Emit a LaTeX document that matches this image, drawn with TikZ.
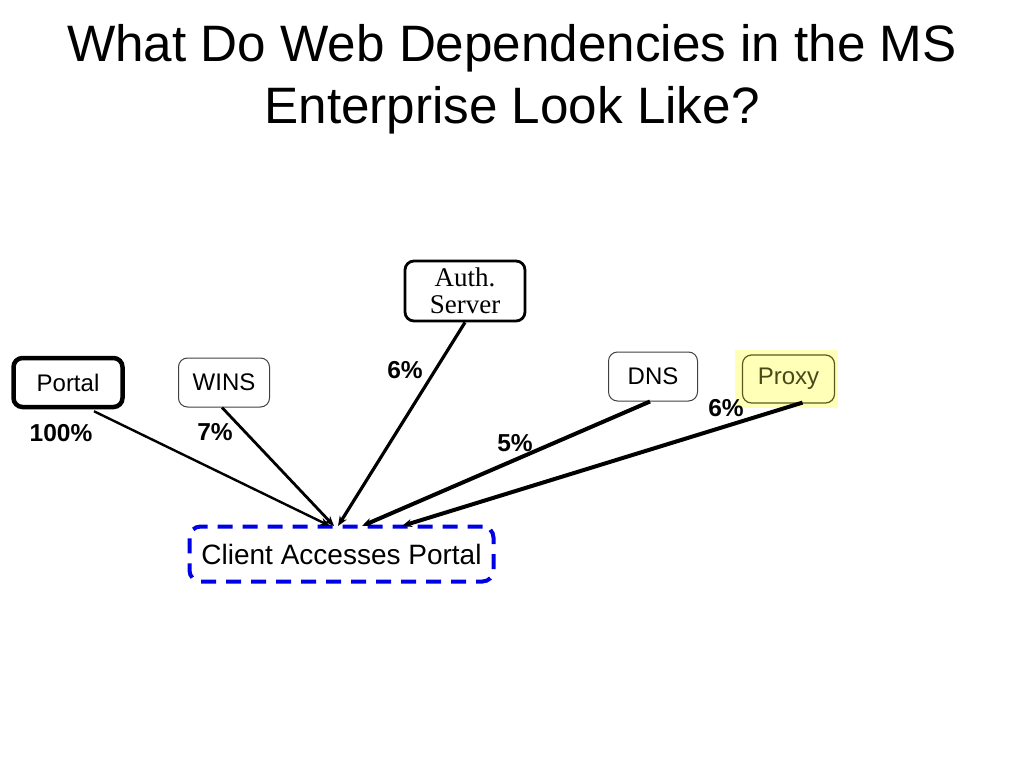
\documentclass[tikz,border=0pt]{standalone}
\usepackage{fontspec}
\setmainfont{Liberation Sans}
\newfontfamily\serifface{Liberation Serif}
\usetikzlibrary{arrows.meta}
\definecolor{hilite}{HTML}{FFFFB8}
\definecolor{olive}{HTML}{5A5A20}
\begin{document}
\begin{tikzpicture}[x=1pt,y=-1pt,
  box/.style={draw, rounded corners=9pt, minimum height=49pt, font=\fontsize{24}{27}\selectfont, inner sep=0pt},
  pct/.style={font=\bfseries\fontsize{24.5}{27}\selectfont, inner sep=0pt},
  dep/.style={-{Stealth[length=10pt,width=8pt]}, black},
]
\useasboundingbox (0,0) rectangle (1024,768);
\node[align=center, font=\fontsize{51.2}{62}\selectfont, inner sep=0pt] (title) at (512,79)
  {What Do Web Dependencies in the MS\\Enterprise Look Like?};

\node[box, line width=4.5pt, minimum width=109pt] (portal) at (68,382.5) {Portal};
\node[box, line width=1pt, draw=black!75, minimum width=91pt] (wins) at (224,382.5) {WINS};
\node[box, line width=2.8pt, minimum width=120pt, minimum height=60pt, align=center,
  font=\serifface\fontsize{27}{27}\selectfont] (auth) at (465,291) {Auth.\\Server};
\node[box, line width=1pt, draw=black!75, minimum width=89pt] (dns) at (653,376.5) {DNS};
\fill[hilite] (735,350) rectangle (838,408);
\node[box, line width=1.2pt, draw=olive, text=olive!80!black, minimum width=92pt, minimum height=48pt] (proxy) at (788.5,379) {Proxy};
\node[draw=blue!90!black, line width=4pt, dash pattern=on 15pt off 10pt, rounded corners=11pt,
  minimum width=304pt, minimum height=55pt, inner sep=0pt, font=\fontsize{28}{30}\selectfont] (client) at (341.5,554) {Client Accesses Portal};

\coordinate (c1) at (330,526);
\coordinate (c2) at (334,526);
\coordinate (c3) at (338,526);
\coordinate (c4) at (362,526);
\coordinate (c5) at (402,526);

\draw[dep, line width=2.4pt] (portal.south) ++(26,2) coordinate (p0) -- (c1);
\draw[dep, line width=2.8pt] (wins.south) ++(-2,0) coordinate (w0) -- (c2);
\draw[dep, line width=3.2pt] (auth.south) -- (c3);
\draw[dep, line width=4pt] (dns.south) ++(-3,0) coordinate (d0) -- (c4);
\draw[dep, line width=4pt] (proxy.south) ++(14,-1) coordinate (x0) -- (c5);

\node[pct] (l1) at (61,433) {100\%};
\node[pct] (l2) at (215,432) {7\%};
\node[pct] (l3) at (405,370) {6\%};
\node[pct] (l4) at (515,443) {5\%};
\node[pct] (l5) at (726,408) {6\%};
\end{tikzpicture}
\end{document}
